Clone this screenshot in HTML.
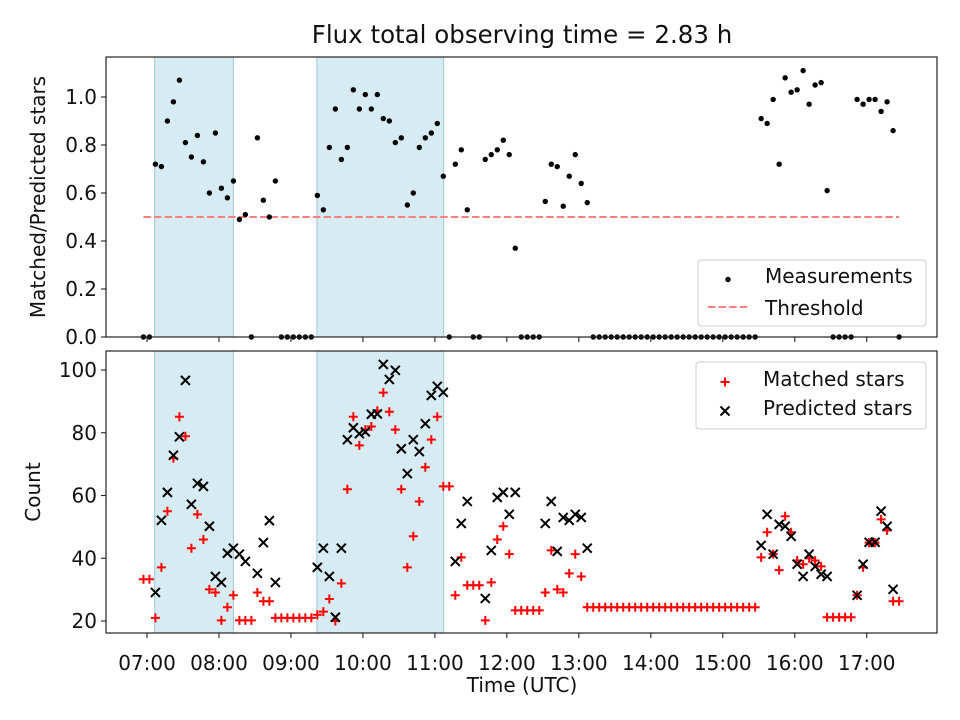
<!DOCTYPE html>
<html><head><meta charset="utf-8"><style>
html,body{margin:0;padding:0;background:#fff;}
svg{display:block;font-family:"DejaVu Sans","Liberation Sans",sans-serif;}
</style></head><body>
<svg id="chart" width="960" height="720" viewBox="0 0 960 720" xmlns="http://www.w3.org/2000/svg"></svg>
<script>
// sample times: minutes after 07:00 (5-minute cadence starting 06:57)
const sampleStartMin = -3;
const sampleStepMin = 5;
const ratio = [0,0,.72,.71,.90,.98,1.07,.81,.75,.84,.73,.60,.85,.62,.58,.65,.49,.51,0,.83,.57,.50,.65,0,0,0,0,0,0,.59,.53,.79,.95,.74,.79,1.03,.95,1.01,.95,1.01,.91,.90,.81,.83,.55,.60,.79,.83,.85,.89,.67,0,.72,.78,.53,0,0,.74,.76,.78,.82,.76,.37,0,0,0,0,.565,.72,.71,.545,.67,.76,.64,.56,0,0,0,0,0,0,0,0,0,0,0,0,0,0,0,0,0,0,0,0,0,0,0,0,0,0,0,0,.91,.89,.99,.72,1.08,1.02,1.03,1.11,.97,1.05,1.06,.61,0,0,0,0,.99,.97,.99,.99,.94,.98,.86,0];
const matched = [33.3,33.3,21,37.1,55,71.9,85.1,78.9,43.2,54,46,30.1,29.1,20.2,24.4,28.2,20.2,20.2,20.2,29.1,26.3,26.3,21,21,21,21,21,21,21,22,23,27,20,32,62,85.1,76,81,82,87,92.8,86.7,81,62,37.1,47,58.1,69,77.8,85.1,62.9,62.9,28.2,40.3,31.4,31.4,31.4,20.2,32.3,46,50.2,41.3,23.4,23.4,23.4,23.4,23.4,29.1,42.5,30.1,29.1,35.2,41.3,34.2,24.4,24.4,24.4,24.4,24.4,24.4,24.4,24.4,24.4,24.4,24.4,24.4,24.4,24.4,24.4,24.4,24.4,24.4,24.4,24.4,24.4,24.4,24.4,24.4,24.4,24.4,24.4,24.4,24.4,40.3,48.3,41.3,36.2,53.4,48.3,39.3,38.1,40,39.3,37.4,21.2,21.2,21.2,21.2,21.2,28.2,37.1,45,45,52.4,48.9,26.3,26.3];
const predicted = [null,null,29.1,52.1,61,72.8,78.7,96.7,57.2,63.9,62.9,50.2,34.2,32.3,41.6,43.2,41.3,39,null,35.2,45,52,32.3,null,null,null,null,null,null,37.1,43.2,34.2,21.2,43.2,77.8,81.6,79.7,80.3,85.9,86,101.8,97,99.9,74.9,67,77.8,74,82.9,91.9,94.8,92.9,null,39,51.1,58.1,null,null,27.2,42.5,59.4,61,54,61,null,null,null,null,51.1,58.1,42.2,53,52.1,54,53,43.2,null,null,null,null,null,null,null,null,null,null,null,null,null,null,null,null,null,null,null,null,null,null,null,null,null,null,null,null,44.1,54,41.3,50.8,50.2,47,38.1,34.2,41.3,37.4,34.9,34.2,null,null,null,null,28.2,38.1,45.1,45.1,55,50.2,30.1,null];
const shadeStartMin = [6.4, 141.6];
const shadeEndMin = [72, 247.3];
const threshold = 0.5;
const xTickHours = [7,8,9,10,11,12,13,14,15,16,17];
const topYTicks = [0,0.2,0.4,0.6,0.8,1.0];
const botYTicks = [20,40,60,80,100];

const NS="http://www.w3.org/2000/svg";
const svg=document.getElementById('chart');
function mk(tag,attrs,parent){const e=document.createElementNS(NS,tag);for(const k in attrs)e.setAttribute(k,attrs[k]);(parent||svg).appendChild(e);return e;}
const L=106,R=937;
const xMin=-34.2,xMax=658.6;
function X(m){return L+(m-xMin)/(xMax-xMin)*(R-L);}
const tT=57,tB=337,tyMin=0,tyMax=1.1667;
function YT(v){return tB-(v-tyMin)/(tyMax-tyMin)*(tB-tT);}
const bT=351,bB=633,byMin=16.18,byMax=106.06;
function YB(v){return bB-(v-byMin)/(byMax-byMin)*(bB-bT);}
function tMin(i){return sampleStartMin+sampleStepMin*i;}
const FS=20;

[[tT,tB],[bT,bB]].forEach(function(p,pi){
  for(let s=0;s<shadeStartMin.length;s++){
    const r=mk('rect',{x:X(shadeStartMin[s]),y:p[0],width:X(shadeEndMin[s])-X(shadeStartMin[s]),height:p[1]-p[0],fill:'#add8e6','fill-opacity':0.5,stroke:'#9fc9d6','stroke-width':1});
    
    
  }
});

const th=mk('line',{x1:X(tMin(0)),x2:X(tMin(ratio.length-1)),y1:YT(threshold),y2:YT(threshold),stroke:'#ff7f7f','stroke-width':2,'stroke-dasharray':'7.4,3.2'});



for(let i=0;i<ratio.length;i++){
  const c=mk('circle',{cx:X(tMin(i)),cy:YT(ratio[i]),r:2.7,fill:'#000'});
  
  
}
for(let i=0;i<matched.length;i++){
  const x=X(tMin(i)),y=YB(matched[i]);
  const p=mk('path',{d:`M${x-4.5},${y}H${x+4.5}M${x},${y-4.5}V${y+4.5}`,stroke:'#f00','stroke-width':2,fill:'none'});
  
  
}
for(let i=0;i<predicted.length;i++){
  if(predicted[i]===null)continue;
  const x=X(tMin(i)),y=YB(predicted[i]);
  const p=mk('path',{d:`M${x-4.5},${y-4.5}L${x+4.5},${y+4.5}M${x-4.5},${y+4.5}L${x+4.5},${y-4.5}`,stroke:'#000','stroke-width':2,fill:'none'});
  
  
}

[[tT,tB],[bT,bB]].forEach(function(p,pi){
  const f=mk('rect',{x:L,y:p[0],width:R-L,height:p[1]-p[0],fill:'none',stroke:'#222','stroke-width':1.2});
  
  
  xTickHours.forEach(function(h){
    const x=X((h-7)*60);
    const t=mk('line',{x1:x,x2:x,y1:p[1],y2:p[1]+5,stroke:'#222','stroke-width':1.1});
    
    
    if(pi===1){
      const tx=mk('text',{x:x,y:p[1]+37,'text-anchor':'middle','font-size':FS,fill:'#111'});
      tx.textContent=(h<10?'0':'')+h+':00';
      
      
    }
  });
});
topYTicks.forEach(function(v){
  const y=YT(v);
  const t=mk('line',{x1:L-5,x2:L,y1:y,y2:y,stroke:'#222','stroke-width':1.1});
  
  
  const tx=mk('text',{x:L-9,y:y+7,'text-anchor':'end','font-size':FS,fill:'#111'});
  tx.textContent=v.toFixed(1);
  
  
});
botYTicks.forEach(function(v){
  const y=YB(v);
  const t=mk('line',{x1:L-5,x2:L,y1:y,y2:y,stroke:'#222','stroke-width':1.1});
  
  
  const tx=mk('text',{x:L-9,y:y+7,'text-anchor':'end','font-size':FS,fill:'#111'});
  tx.textContent=String(v);
  
  
});
</script>
<svg style="position:absolute;left:0;top:0" width="960" height="720" font-family="DejaVu Sans, Liberation Sans, sans-serif">
  <text x="522" y="43" text-anchor="middle" font-size="24.5" fill="#111">Flux total observing time = 2.83 h</text>
  <text transform="translate(45,197) rotate(-90)" text-anchor="middle" font-size="20" fill="#111">Matched/Predicted stars</text>
  <text transform="translate(40,492) rotate(-90)" text-anchor="middle" font-size="20" fill="#111">Count</text>
  <text x="522" y="692" text-anchor="middle" font-size="20" fill="#111">Time (UTC)</text>
  <g>
    <rect x="698" y="260" width="228" height="66" rx="3" fill="#fff" fill-opacity="0.8" stroke="#ccc"/>
    <circle cx="728" cy="279.5" r="2.7" fill="#000"/>
    <text x="765" y="283" font-size="20" fill="#111">Measurements</text>
    <line x1="708" x2="749" y1="307" y2="307" stroke="#ff7f7f" stroke-width="2" stroke-dasharray="7.4,3.2"/>
    <text x="765" y="315" font-size="20" fill="#111">Threshold</text>
  </g>
  <g>
    <rect x="696" y="362" width="230" height="67" rx="3" fill="#fff" fill-opacity="0.8" stroke="#ccc"/>
    <path d="M720.5,382H729.5M725,377.5V386.5" stroke="#f00" stroke-width="2"/>
    <text x="763" y="386" font-size="20" fill="#111">Matched stars</text>
    <path d="M720.5,406.5L729.5,415.5M720.5,415.5L729.5,406.5" stroke="#000" stroke-width="2"/>
    <text x="763" y="415" font-size="20" fill="#111">Predicted stars</text>
  </g>
</svg>
</body></html>
